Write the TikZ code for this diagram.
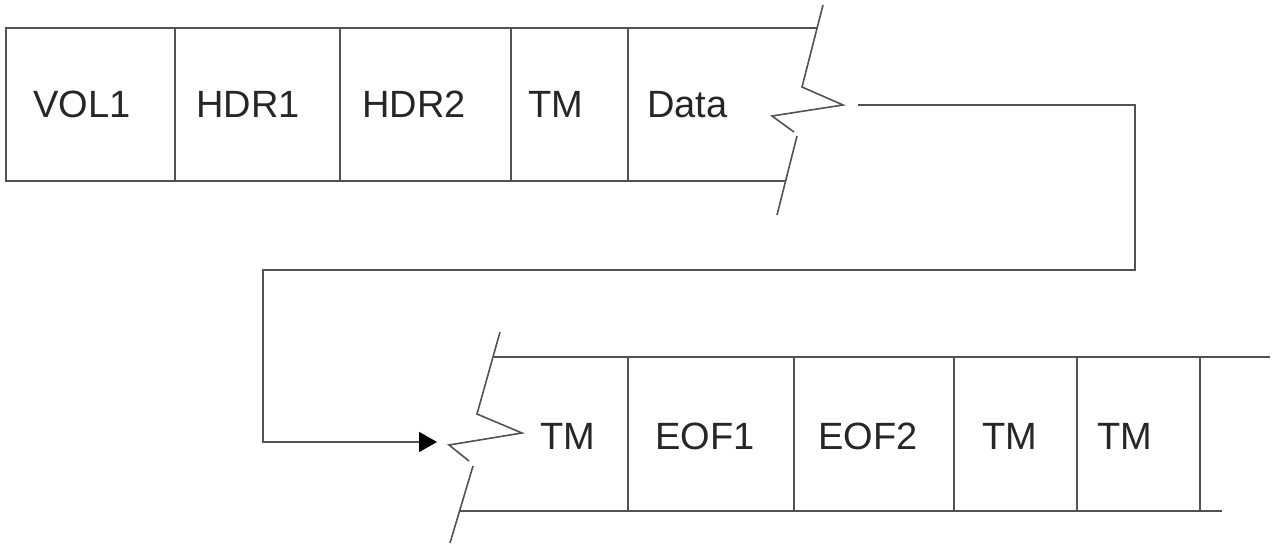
\documentclass[tikz,border=0pt]{standalone}
\usepackage{fontspec}
\setmainfont{Liberation Sans}
\usetikzlibrary{arrows.meta}
\begin{document}
\begin{tikzpicture}[x=1pt,y=-1pt,
  ln/.style={line width=1.6pt, draw=black!68, line join=miter},
  lbl/.style={anchor=base west, inner sep=0pt, font=\fontsize{38}{38}\selectfont, text=black!85}]
\useasboundingbox (0,0) rectangle (1275,546);
% ---- top strip ----
\draw[ln] (818,28) -- (6,28) -- (6,181) -- (785,181);
\foreach \x in {175,340,511,628} \draw[ln] (\x,28) -- (\x,181);
\draw[ln] (823,5) -- (802,87) -- (843,105) -- (772,116) -- (794,132);
\draw[ln] (797,136) -- (777,215);
\node[lbl] (vol1) at (33,117) {VOL1};
\node[lbl] (hdr1) at (196,117) {HDR1};
\node[lbl] (hdr2) at (362,117) {HDR2};
\node[lbl] (tm1) at (528,117) {TM};
\node[lbl] (data) at (647,117) {Data};
% ---- bottom strip ----
\draw[ln] (494,357) -- (1270,357);
\draw[ln] (460,511) -- (1222,511);
\foreach \x in {628,794,954,1077,1200} \draw[ln] (\x,357) -- (\x,511);
\draw[ln] (500,332) -- (477,414) -- (522,433) -- (449,445) -- (469,461);
\draw[ln] (473,466) -- (450,543);
\node[lbl] (tm2) at (540,449) {TM};
\node[lbl] (eof1) at (655,449) {EOF1};
\node[lbl] (eof2) at (818,449) {EOF2};
\node[lbl] (tm3) at (982,449) {TM};
\node[lbl] (tm4) at (1097,449) {TM};
% ---- connector ----
\coordinate (start) at (858,105);
\coordinate (tip) at (437,442);
\draw[ln, -{Triangle[length=18pt,width=20pt,fill=black,color=black]}] (start) -- (1135,105) -- (1135,270) -- (263,270) |- (tip);
\end{tikzpicture}
\end{document}
